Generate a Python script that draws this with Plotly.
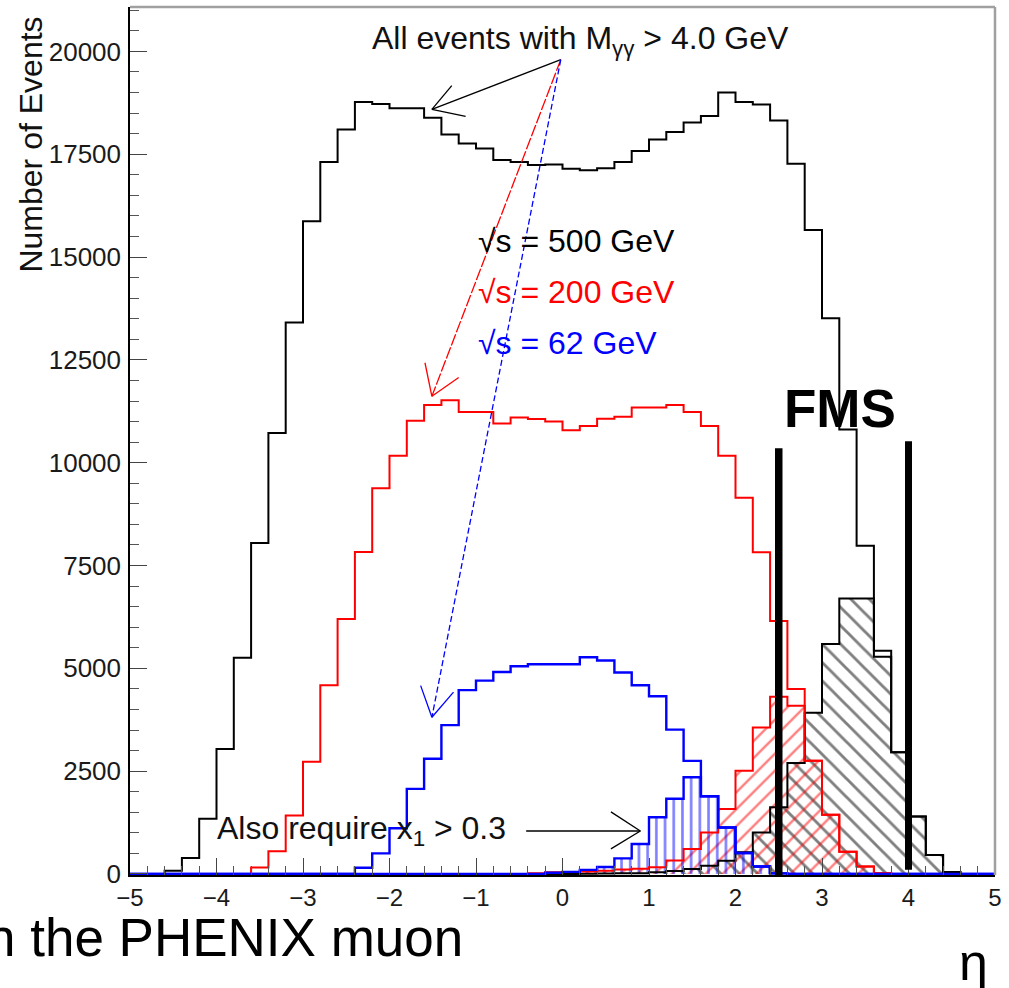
import numpy as np
import plotly.graph_objects as go

# pseudorapidity binning: 50 bins of width 0.2 from -5 to 5
eta_edges = np.round(np.linspace(-5, 5, 51), 2)
eta_centers = (eta_edges[:-1] + eta_edges[1:]) / 2

# all events with M > 4.0 GeV
all_500 = [0, 0, 80, 390, 1340, 3040, 5260, 8050, 10720, 13410,
           15870, 17310, 18100, 18770, 18720, 18620, 18620, 18390, 17980, 17760,
           17640, 17360, 17310, 17240, 17250, 17150, 17110, 17160, 17310, 17580,
           17860, 18040, 18270, 18430, 19000, 18770, 18710, 18320, 17270, 15660,
           13510, 10810, 7980, 5430, 2960, 1400, 460, 50, 0, 0]
all_200 = [0, 0, 0, 0, 0, 0, 0, 160, 550, 1420,
           2730, 4590, 6200, 7830, 9380, 10170, 11020, 11400, 11520, 11230,
           11230, 10950, 11100, 11060, 11000, 10790, 10890, 11070, 11120, 11340,
           11340, 11400, 11230, 10890, 10170, 9150, 7820, 6150, 4500, 2750,
           1440, 540, 180, 20, 0, 0, 0, 0, 0, 0]
all_62 = [0, 0, 0, 0, 0, 0, 0, 0, 0, 0,
          0, 0, 0, 150, 500, 1110, 2070, 2800, 3620, 4470,
          4700, 4910, 5050, 5100, 5100, 5100, 5270, 5190, 4900, 4590,
          4320, 3510, 2750, 1890, 1130, 510, 180, 15, 0, 0,
          0, 0, 0, 0, 0, 0, 0, 0, 0, 0]

# additionally requiring x1 > 0.3
cut_500 = [0, 0, 0, 0, 0, 0, 0, 0, 0, 0,
           0, 0, 0, 0, 0, 0, 0, 0, 0, 0,
           0, 0, 0, 0, 0, 0, 5, 10, 15, 20,
           40, 70, 120, 200, 320, 530, 1010, 1620, 2700, 3920,
           5590, 6700, 6700, 5280, 2960, 1400, 460, 50, 0, 0]
cut_200 = [0, 0, 0, 0, 0, 0, 0, 0, 0, 0,
           0, 0, 0, 0, 0, 0, 0, 0, 0, 0,
           0, 0, 0, 20, 40, 50, 60, 80, 110, 130,
           165, 325, 610, 1010, 1580, 2510, 3560, 4310, 4090, 2750,
           1440, 540, 180, 20, 0, 0, 0, 0, 0, 0]
cut_62 = [0, 0, 0, 0, 0, 0, 0, 0, 0, 0,
          0, 0, 0, 0, 0, 0, 0, 0, 0, 0,
          0, 0, 0, 0, 30, 50, 100, 170, 380, 730,
          1380, 1830, 2350, 1890, 1130, 510, 180, 15, 0, 0,
          0, 0, 0, 0, 0, 0, 0, 0, 0, 0]

x_ticks = [-5, -4, -3, -2, -1, 0, 1, 2, 3, 4, 5]
y_ticks = [0, 2500, 5000, 7500, 10000, 12500, 15000, 17500, 20000]

FONT = "Liberation Sans, Arial, Helvetica, sans-serif"
BLACK, RED, BLUE = "#000000", "#ff0000", "#0000ff"
CLEAR = "rgba(0,0,0,0)"


def step_trace(values, color, width=2.0):
    y = list(values) + [values[-1]]
    return go.Scatter(x=eta_edges, y=y, mode="lines", line_shape="hv",
                      line=dict(color=color, width=width),
                      hoverinfo="skip", showlegend=False)


def hatch_trace(values, color, shape, size, solidity):
    return go.Bar(x=eta_centers, y=values, width=0.2,
                  marker=dict(color=CLEAR, line=dict(width=0),
                              pattern=dict(shape=shape, size=size,
                                           solidity=solidity,
                                           fgcolor=color, bgcolor=CLEAR,
                                           fillmode="overlay")),
                  hoverinfo="skip", showlegend=False)


fig = go.Figure()
fig.add_trace(hatch_trace(cut_500, BLACK, "\\", 13, 0.22))
fig.add_trace(hatch_trace(cut_200, RED, "/", 12, 0.2))
fig.add_trace(hatch_trace(cut_62, BLUE, "|", 8.7, 0.3))
fig.add_trace(step_trace(all_500, BLACK))
fig.add_trace(step_trace(all_200, RED))
fig.add_trace(step_trace(all_62, BLUE, 2.4))
fig.add_trace(step_trace(cut_500, BLACK))
fig.add_trace(step_trace(cut_200, RED))
fig.add_trace(step_trace(cut_62, BLUE, 2.4))

shapes = []


def seg(x0, y0, x1, y1, color, width=1.3, dash="solid"):
    shapes.append(dict(type="line", xref="x", yref="y", x0=x0, y0=y0,
                       x1=x1, y1=y1, line=dict(color=color, width=width, dash=dash)))


# arrows from the header label to each distribution (open V heads)
apex = (-0.02, 19800)
arrows = [
    (BLACK, "solid", (-1.51, 18590), (-1.28, 19170), (-1.12, 18420)),
    (RED, "12px,2px", (-1.51, 11615), (-1.59, 12430), (-1.20, 12070)),
    (BLUE, "6px,3px", (-1.51, 3810), (-1.64, 4580), (-1.26, 4420)),
]
for color, dash, tip, w1, w2 in arrows:
    seg(apex[0], apex[1], tip[0], tip[1], color, 1.3, dash)
    seg(tip[0], tip[1], w1[0], w1[1], color, 1.3)
    seg(tip[0], tip[1], w2[0], w2[1], color, 1.3)

# arrow for the x1 requirement label
seg(-0.42, 1045, 0.90, 1045, BLACK, 1.5)
seg(0.90, 1045, 0.56, 1510, BLACK, 1.3)
seg(0.90, 1045, 0.56, 610, BLACK, 1.3)

# FMS acceptance boundaries
seg(2.5, -80, 2.5, 10350, BLACK, 7.5)
seg(4.0, 100, 4.0, 10520, BLACK, 7)

# grey frame on top and right
shapes.append(dict(type="line", xref="paper", yref="paper", x0=0, y0=1, x1=1, y1=1,
                   line=dict(color="#a0a0a0", width=2.5)))
shapes.append(dict(type="line", xref="paper", yref="paper", x0=1, y0=0, x1=1, y1=1,
                   line=dict(color="#a0a0a0", width=2.5)))

annotations = [
    dict(text="All events with M<sub>γγ</sub> > 4.0 GeV", x=-2.22, y=20266,
         xref="x", yref="y", xanchor="left", yanchor="middle", showarrow=False,
         font=dict(family=FONT, size=32, color="#111111")),
    dict(text="√s = 500 GeV", x=-1.0, y=15380, xref="x", yref="y",
         xanchor="left", yanchor="middle", showarrow=False,
         font=dict(family=FONT, size=32, color=BLACK)),
    dict(text="√s = 200 GeV", x=-1.0, y=14140, xref="x", yref="y",
         xanchor="left", yanchor="middle", showarrow=False,
         font=dict(family=FONT, size=32, color=RED)),
    dict(text="√s = 62 GeV", x=-1.0, y=12900, xref="x", yref="y",
         xanchor="left", yanchor="middle", showarrow=False,
         font=dict(family=FONT, size=32, color=BLUE)),
    dict(text="Also require x<sub>1</sub> > 0.3", x=-4.02, y=1060, xref="x", yref="y",
         xanchor="left", yanchor="middle", showarrow=False,
         font=dict(family=FONT, size=32, color="#111111")),
    dict(text="<b>FMS</b>", x=3.21, y=11330, xref="x", yref="y",
         xanchor="center", yanchor="middle", showarrow=False,
         font=dict(family=FONT, size=53, color=BLACK)),
    dict(text="Number of Events", x=-0.114, y=0.842, xref="paper", yref="paper",
         xanchor="center", yanchor="middle", textangle=-90, showarrow=False,
         font=dict(family=FONT, size=32, color="#111111")),
    dict(text="n the PHENIX muon", x=0.387, y=-0.072, xref="paper", yref="paper",
         xanchor="right", yanchor="middle", showarrow=False,
         font=dict(family=FONT, size=53, color=BLACK)),
    dict(text="η", x=0.975, y=-0.1, xref="paper", yref="paper",
         xanchor="center", yanchor="middle", showarrow=False,
         font=dict(family=FONT, size=52, color=BLACK)),
]

fig.update_layout(
    width=1009, height=988,
    margin=dict(l=130, r=10, t=7, b=113),
    paper_bgcolor="white", plot_bgcolor="white",
    barmode="overlay", bargap=0,
    showlegend=False,
    shapes=shapes,
    annotations=annotations,
    font=dict(family=FONT, color="#1a1a1a"),
)
fig.update_xaxes(
    range=[-5, 5], tickvals=x_ticks, ticks="inside", ticklen=17, tickwidth=1.2,
    tickcolor="#444444", showline=True, linecolor=BLACK, linewidth=1.5,
    showgrid=False, zeroline=False, ticklabelstandoff=0,
    tickfont=dict(family=FONT, size=24, color="#1a1a1a"),
    minor=dict(dtick=0.2, ticks="inside", ticklen=9, tickwidth=1.2,
               tickcolor="#555555", showgrid=False),
)
fig.update_yaxes(
    range=[-25, 21080], tickvals=y_ticks, tickformat="d", ticks="inside",
    ticklen=17, tickwidth=1.2, tickcolor="#444444", showline=True,
    linecolor=BLACK, linewidth=1.5, showgrid=False, zeroline=False,
    ticklabelstandoff=2,
    tickfont=dict(family=FONT, size=26, color="#1a1a1a"),
    minor=dict(dtick=500, tick0=0, ticks="inside", ticklen=9, tickwidth=1.2,
               tickcolor="#555555", showgrid=False),
)

fig.write_html("out.html")
